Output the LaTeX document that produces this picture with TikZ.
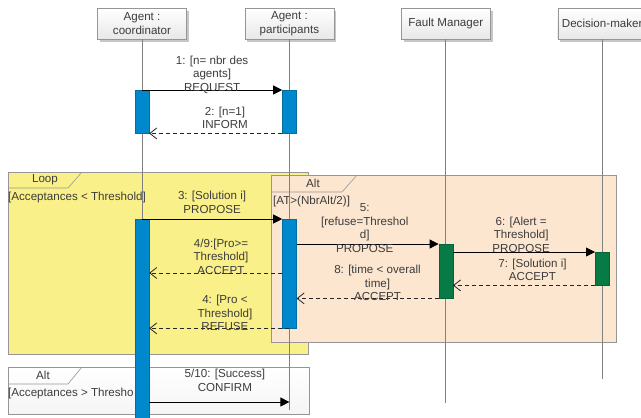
\documentclass[tikz,border=0pt]{standalone}
\usepackage{fontspec}
\setmainfont{Liberation Sans}
\usetikzlibrary{positioning,arrows.meta,shadows}
\definecolor{actblue}{RGB}{0,136,204}
\definecolor{actgreen}{RGB}{8,122,70}
\definecolor{loopyellow}{RGB}{250,240,137}
\definecolor{altpeach}{RGB}{252,230,208}
\definecolor{framegray}{RGB}{150,150,150}
\definecolor{txtgray}{RGB}{60,60,60}

\begin{document}
\begin{tikzpicture}[x=1pt, y=-1pt,
	every node/.style={font=\fontsize{11.6}{13.6}\selectfont, text=txtgray},
	head/.style={draw=framegray, top color=white, bottom color=black!9, minimum width=89pt, minimum height=31pt, align=center, inner sep=1pt, drop shadow={shadow xshift=2.5pt, shadow yshift=-2.5pt, fill=black!22, opacity=1}},
	life/.style={draw=black!50, line width=0.8pt},
	act/.style={anchor=north, minimum width=14pt, inner sep=0pt, draw=#1!80!black, fill=#1},
	call/.style={draw=black, line width=0.8pt, -{Triangle[length=9pt, width=9pt]}},
	reply/.style={draw=black!85, line width=0.8pt, dash pattern=on 4pt off 3pt, -{Straight Barb[length=7pt, width=11pt]}},
	lbl/.style={anchor=south, align=center, inner sep=0pt, execute at end node=\strut},
	frame/.style={draw=framegray, line width=0.6pt},
	guard/.style={anchor=west, inner sep=0pt}]
	\useasboundingbox (0,0) rectangle (641,418);
	\fill[white] (0,0) rectangle (641,418);

	\filldraw[frame, fill=loopyellow] (8,172) rectangle (308,354);
	\draw[frame] (8,188) -- (68,188) -- (82,172);
	\node (loopT) at (45,180) {Loop};
	\node[guard] (loopG) at (8,197) {[Acceptances < Threshold]};

	\filldraw[frame, fill=altpeach] (271,175) rectangle (616,342);
	\draw[frame] (271,192) -- (342,192) -- (357,175);
	\node (altT) at (313,183) {Alt};
	\node[guard] (altG) at (273,201) {[AT>(NbrAlt/2)]};

	\draw[frame, top color=white, bottom color=black!4] (8,367) rectangle (309,414);
	\draw[frame] (8,384) -- (68,384) -- (82,367);
	\node (okT) at (43,375) {Alt};
	\node[guard] (okG) at (8,393) {[Acceptances > Thresho};

	\node[head] (coord) at (142,23.5) {Agent :\\coordinator};
	\node[head, right=58pt of coord] (part) {Agent :\\participants};
	\node[head, right=67pt of part] (fm) {Fault Manager};
	\node[head, right=67pt of fm] (dm) {Decision-maker};

	\coordinate (coordE) at (coord |- 0,420);
	\coordinate (partE) at (part |- 0,410);
	\coordinate (fmE) at (fm |- 0,403);
	\coordinate (dmE) at (dm |- 0,379);
	\draw[life] (coord.south) -- (coordE);
	\draw[life] (part.south) -- (partE);
	\draw[life] (fm.south) -- (fmE);
	\draw[life] (dm.south) -- (dmE);

	\node[act=actblue, minimum height=43pt] (ca1) at (coord |- 0,90) {};
	\node[act=actblue, minimum height=43pt] (pa1) at (part |- 0,90) {};
	\node[act=actblue, minimum height=205pt] (ca2) at (coord |- 0,219) {};
	\node[act=actblue, minimum height=109pt] (pa2) at (part |- 0,219) {};
	\node[act=actgreen, minimum height=54pt] (fa) at (fm |- 0,244) {};
	\node[act=actgreen, minimum height=33pt] (da) at (dm |- 0,252) {};
	\coordinate (acc) at (pa2.west |- 0,273);
	\coordinate (cf) at (part |- 0,402);

	\draw[call] (ca1.north) to node[lbl, yshift=-6pt] {1: [n= nbr des\\agents]\\REQUEST} (pa1.north west);
	\draw[reply] (pa1.south west) to node[lbl, pos=0.43] {2: [n=1]\\INFORM} (ca1.south east);
	\draw[call] (ca2.north) to node[lbl, yshift=1pt] {3: [Solution i]\\PROPOSE} (pa2.north west);
	\draw[call] (pa2.east |- fa.north) to node[lbl, pos=0.48, yshift=-13pt] {5:\\{}[refuse=Threshol\\d]\\PROPOSE} (fa.north west);
	\draw[call] (fa.east |- da.north) to node[lbl, pos=0.48, yshift=-5pt] {6: [Alert =\\Threshold]\\PROPOSE} (da.north west);
	\draw[reply] (da.south west) to node[lbl, pos=0.44] {7: [Solution i]\\ACCEPT} (fa.east |- da.south);
	\draw[reply] (fa.south west) to node[lbl, pos=0.43, yshift=-7pt] {8: [time < overall\\time]\\ACCEPT} (pa2.east |- fa.south);
	\draw[reply] (acc) to node[lbl, pos=0.46, yshift=-6pt] {4/9:[Pro>=\\Threshold]\\ACCEPT} (acc -| ca2.east);
	\draw[reply] (pa2.south) to node[lbl, pos=0.46, yshift=-7pt] {4: [Pro <\\Threshold]\\REFUSE} (pa2.south -| ca2.east);
	\draw[call] (ca2.east |- cf) to node[lbl, pos=0.54, yshift=6pt] {5/10: [Success]\\CONFIRM} (cf);
\end{tikzpicture}
\end{document}
